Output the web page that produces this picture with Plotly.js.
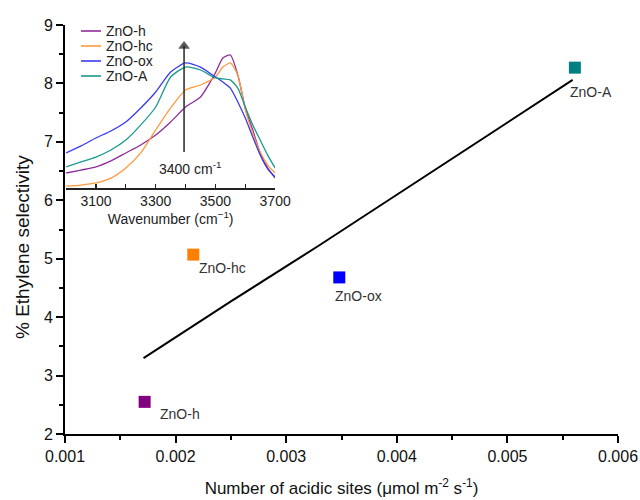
<!DOCTYPE html>
<html>
<head>
<meta charset="utf-8">
<script src="https://cdn.plot.ly/plotly-3.0.1.min.js"></script>
<style>html,body{margin:0;padding:0;background:#fff;}#chart{width:640px;height:500px;}</style>
</head>
<body>
<div id="chart"></div>
<script>
// Main chart data
const sampleNames = ["ZnO-h", "ZnO-hc", "ZnO-ox", "ZnO-A"];
const acidSites = [0.00172, 0.00216, 0.00348, 0.00561];
const ethyleneSel = [2.55, 5.07, 4.68, 8.27];
const markerColors = ["#800080", "#FF8000", "#0000FF", "#008080"];

// Fitted trend line
const fitX = [0.00171, 0.0025, 0.0033, 0.0041, 0.0049, 0.00559];
const fitY = [3.30, 4.27, 5.23, 6.22, 7.20, 8.06];

// Inset FTIR spectra (arbitrary units)
const wavenumber = [3000, 3050, 3100, 3150, 3200, 3250, 3300, 3350, 3400, 3450, 3500, 3525, 3550, 3575, 3600, 3625, 3650, 3675, 3700];
const specH  = [0.092, 0.110, 0.129, 0.166, 0.215, 0.264, 0.325, 0.405, 0.497, 0.558, 0.706, 0.798, 0.816, 0.693, 0.491, 0.356, 0.215, 0.123, 0.061];
const specHC = [0.012, 0.018, 0.031, 0.061, 0.123, 0.215, 0.356, 0.491, 0.601, 0.632, 0.681, 0.742, 0.767, 0.693, 0.479, 0.337, 0.221, 0.141, 0.092];
const specOX = [0.215, 0.258, 0.307, 0.350, 0.405, 0.491, 0.589, 0.712, 0.767, 0.742, 0.681, 0.650, 0.613, 0.528, 0.429, 0.313, 0.202, 0.117, 0.067];
const specA  = [0.129, 0.160, 0.190, 0.233, 0.294, 0.387, 0.497, 0.681, 0.742, 0.724, 0.675, 0.669, 0.663, 0.613, 0.497, 0.387, 0.294, 0.202, 0.123];
const specColors = ["#8E2C9A", "#FF9A3C", "#3A3AF0", "#1A9A8C"];

// Arrow marking the 3400 cm-1 band
const arrowX = [3395, 3395];
const arrowY = [0.221, 0.871];

const FONT = "Arial, 'Liberation Sans', sans-serif";

// plot area geometry (pixels) for paper-coordinate placement
const M = {l: 65, r: 22, t: 25, b: 66};
const PW = 640 - M.l - M.r, PH = 500 - M.t - M.b;
const px2x = px => (px - M.l) / PW;
const py2y = py => (500 - M.b - py) / PH;

const traces = [];
traces.push({
  x: fitX, y: fitY, type: "scatter", mode: "lines",
  line: {color: "#000", width: 2}, showlegend: false, hoverinfo: "skip",
  xaxis: "x", yaxis: "y"
});
traces.push({
  x: acidSites, y: ethyleneSel, type: "scatter", mode: "markers",
  marker: {symbol: "square", size: 12, color: markerColors},
  showlegend: false, xaxis: "x", yaxis: "y"
});
const specs = [specH, specHC, specOX, specA];
specs.forEach((s, i) => {
  traces.push({
    x: wavenumber, y: s, type: "scatter", mode: "lines", name: sampleNames[i],
    line: {color: specColors[i], width: 1.3, shape: "spline", smoothing: 0.6},
    xaxis: "x2", yaxis: "y2", showlegend: false
  });
});
traces.push({
  x: arrowX, y: arrowY, type: "scatter", mode: "lines+markers",
  line: {color: "#333", width: 1.6},
  marker: {symbol: "triangle-up", size: [0, 9], color: "#111"},
  xaxis: "x2", yaxis: "y2", showlegend: false, hoverinfo: "skip"
});

const labelShift = [[13, -12], [4, -13], [-6, -19], [-7, -24]];
const annotations = sampleNames.map((n, i) => ({
  x: acidSites[i], y: ethyleneSel[i], xref: "x", yref: "y",
  text: n, showarrow: false, xanchor: "left", yanchor: "middle",
  xshift: labelShift[i][0], yshift: labelShift[i][1],
  font: {family: FONT, size: 14, color: "#333"}
}));
annotations.push({
  x: 3415, y: 0.123, xref: "x2", yref: "y2",
  text: "3400 cm<sup>-1</sup>", showarrow: false,
  font: {family: FONT, size: 14, color: "#222"}
});
annotations.push({
  x: px2x(23), y: py2y(247), xref: "paper", yref: "paper",
  text: "% Ethylene selectivity", textangle: -90, showarrow: false,
  xanchor: "center", yanchor: "middle",
  font: {family: FONT, size: 19, color: "#111"}
});

// inset legend (manual, for compact spacing)
const shapes = [];
sampleNames.forEach((n, i) => {
  const py = 31 + 15 * i;
  shapes.push({
    type: "line", xref: "paper", yref: "paper",
    x0: px2x(81), x1: px2x(101), y0: py2y(py), y1: py2y(py),
    line: {color: specColors[i], width: 1.6}
  });
  annotations.push({
    x: px2x(104), y: py2y(py), xref: "paper", yref: "paper",
    text: n, showarrow: false, xanchor: "left", yanchor: "middle",
    font: {family: FONT, size: 14, color: "#222"}
  });
});

const layout = {
  width: 640, height: 500,
  margin: M,
  paper_bgcolor: "#fff", plot_bgcolor: "#fff",
  font: {family: FONT, color: "#111"},
  xaxis: {
    range: [0.001, 0.006], tick0: 0.001, dtick: 0.001, tickformat: ".3f",
    showline: true, linecolor: "#000", linewidth: 2, mirror: false,
    ticks: "outside", ticklen: 7, tickwidth: 2, tickcolor: "#000",
    minor: {dtick: 0.0005, ticks: "outside", ticklen: 4, tickwidth: 2, tickcolor: "#000"},
    showgrid: false, zeroline: false,
    tickfont: {size: 16, family: FONT, color: "#111"},
    title: {text: "Number of acidic sites (μmol m<sup>-2</sup> s<sup>-1</sup>)", font: {size: 17, family: FONT, color: "#111"}, standoff: 18},
    automargin: false
  },
  yaxis: {
    range: [2, 9], dtick: 1,
    showline: true, linecolor: "#000", linewidth: 2,
    ticks: "outside", ticklen: 7, tickwidth: 2, tickcolor: "#000",
    minor: {dtick: 0.5, ticks: "outside", ticklen: 4, tickwidth: 2, tickcolor: "#000"},
    showgrid: false, zeroline: false,
    tickfont: {size: 16, family: FONT, color: "#111"},
    automargin: false
  },
  xaxis2: {
    domain: [0.002, 0.38], anchor: "y2", range: [3000, 3700],
    tickmode: "array", tickvals: [3100, 3300, 3500, 3700],
    minor: {tick0: 3000, dtick: 100, ticks: "inside", ticklen: 4, tickwidth: 1.2, tickcolor: "#222"},
    showline: true, linecolor: "#222", linewidth: 1.5,
    ticks: "inside", ticklen: 4, tickwidth: 1.2, tickcolor: "#222",
    showgrid: false, zeroline: false,
    tickfont: {size: 14, family: FONT, color: "#222"},
    title: {text: "Wavenumber (cm<sup>−1</sup>)", font: {size: 14, family: FONT, color: "#222"}, standoff: 0},
    automargin: false
  },
  yaxis2: {
    domain: [py2y(188), 1], anchor: "x2", range: [0, 1],
    visible: false
  },
  showlegend: false,
  shapes: shapes,
  annotations: annotations
};

Plotly.newPlot("chart", traces, layout, {staticPlot: true, displayModeBar: false});
</script>
</body>
</html>
